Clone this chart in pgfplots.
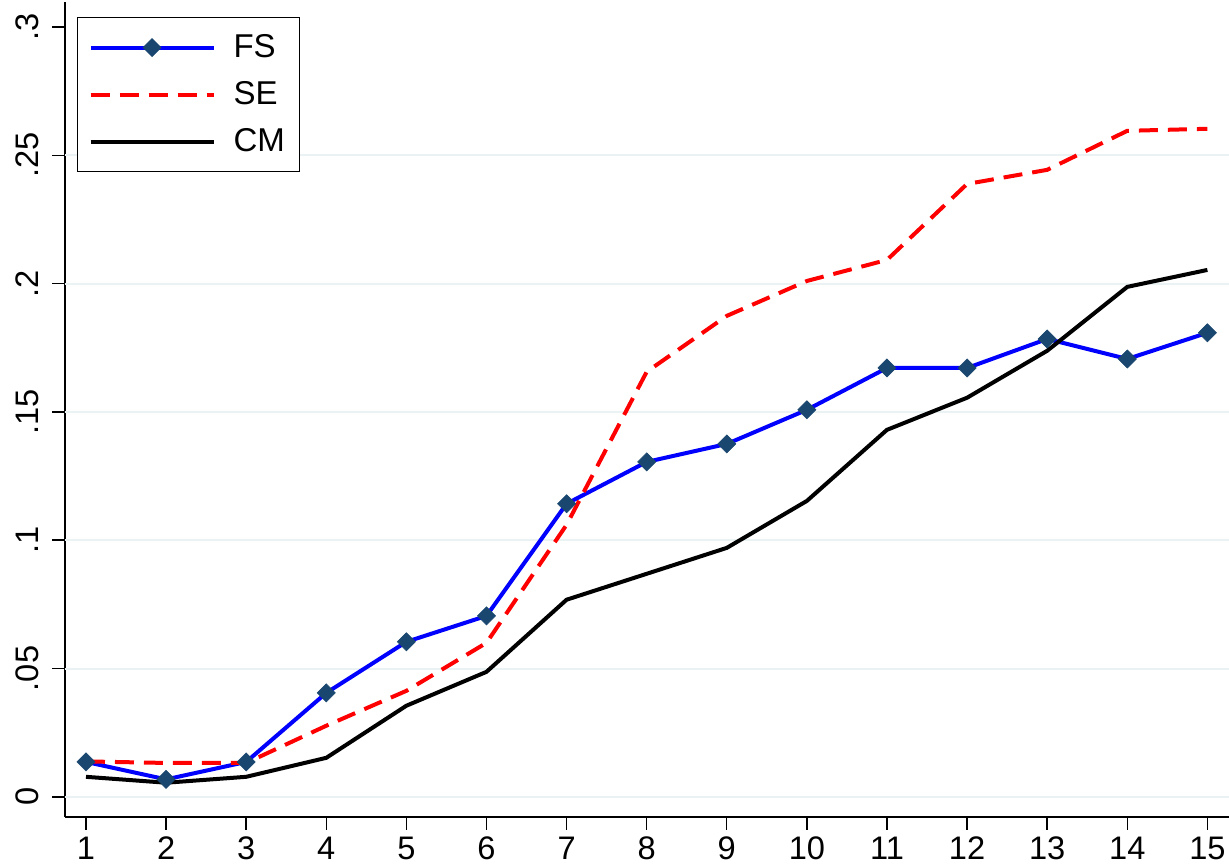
\documentclass[border=0pt]{standalone}
\usepackage{pgfplots}
\pgfplotsset{compat=1.18}
\usepackage{fontspec}
\setmainfont{Liberation Sans}
\definecolor{gridc}{RGB}{234,242,243}
\definecolor{stnavy}{RGB}{26,71,111}
\begin{document}
\begin{tikzpicture}
\begin{axis}[
  scale only axis,
  width=582bp, height=407.4bp,
  xmin=0.738, xmax=15.27,
  ymin=-0.00778, ymax=0.3097,
  axis x line*=bottom, axis y line*=left,
  axis line style={line width=0.7bp, -},
  xtick={1,...,15},
  ytick={0,0.05,0.1,0.15,0.2,0.25,0.3},
  yticklabels={0,.05,.1,.15,.2,.25,.3},
  tick align=outside,
  major tick length=6.5bp,
  tick style={line width=0.7bp, black},
  ticklabel style={font=\fontsize{16.3bp}{19bp}\selectfont},
  /pgf/number format/assume math mode=true,
  yticklabel style={xshift=-3bp, rotate=90, anchor=south},
  extra y ticks={0,0.05,0.1,0.15,0.2,0.25},
  extra y tick labels={},
  extra y tick style={ymajorgrids=true, major tick length=0pt, grid style={gridc, line width=1bp}},
  clip=false,
  legend cell align=left,
  legend style={at={(0,1)}, anchor=north west, xshift=6bp, yshift=-7.5bp,
     draw=black, line width=0.6bp, inner xsep=5.5bp, inner ysep=6.5bp,
     font=\fontsize{16.5bp}{19bp}\selectfont,
     row sep=6.5bp, column sep=7bp},
  legend image code/.code={\draw[mark repeat=2,mark phase=2,#1] plot coordinates {(0bp,0bp)(30.75bp,0bp)(61.5bp,0bp)};},
]
\addplot[blue, line width=2bp, mark=square*, mark size=3.2bp, mark options={rotate=45, fill=stnavy, draw=stnavy, solid, line width=0.3bp}]
coordinates {(1,0.0136)(2,0.0068)(3,0.0136)(4,0.0405)(5,0.0604)(6,0.0705)(7,0.1142)(8,0.1305)(9,0.1375)(10,0.1508)(11,0.1671)(12,0.1671)(13,0.1784)(14,0.1706)(15,0.1808)};
\addlegendentry{FS}
\addplot[red, line width=2bp, dash pattern=on 9.5bp off 5bp]
coordinates {(1,0.0138)(2,0.0132)(3,0.0132)(4,0.0277)(5,0.0413)(6,0.0600)(7,0.1060)(8,0.1656)(9,0.1874)(10,0.2010)(11,0.2092)(12,0.2388)(13,0.2443)(14,0.2595)(15,0.2603)};
\addlegendentry{SE}
\addplot[black, line width=2bp]
coordinates {(1,0.0078)(2,0.0055)(3,0.0078)(4,0.0152)(5,0.0355)(6,0.0487)(7,0.0768)(8,0.0869)(9,0.0970)(10,0.1153)(11,0.1430)(12,0.1555)(13,0.1738)(14,0.1987)(15,0.2053)};
\addlegendentry{CM}
\end{axis}
\pgfresetboundingbox
\path ([xshift=-32.5bp,yshift=-24.15bp]current axis.south west) rectangle ([yshift=1bp]current axis.north east);
\end{tikzpicture}
\end{document}
